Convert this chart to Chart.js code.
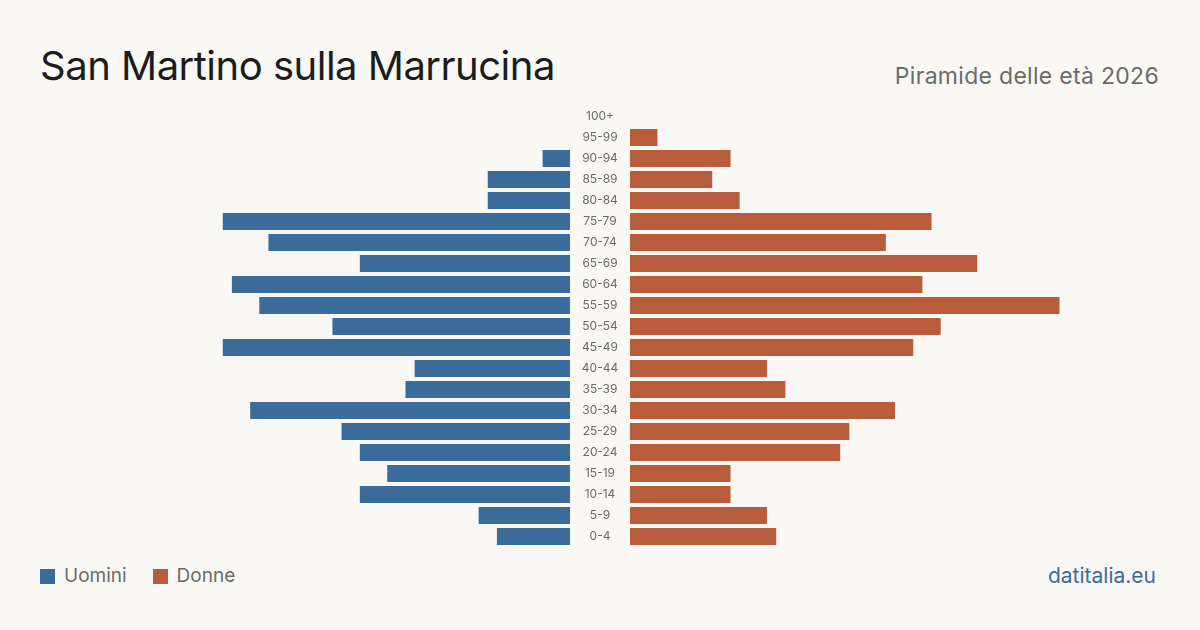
<!DOCTYPE html>
<html>
<head>
<meta charset="utf-8">
<script src="https://cdn.jsdelivr.net/npm/chart.js@4/dist/chart.umd.min.js"></script>
<style>
  html, body { margin:0; padding:0; }
  body { width:1200px; height:630px; background:#f9f8f4; position:relative; overflow:hidden; font-family: Inter, "Noto Sans", sans-serif; }
  #title { position:absolute; left:40px; top:40px; font-size:40px; color:#1c1c1c; line-height:52px; letter-spacing:-0.5px; }
  #subtitle { position:absolute; right:41px; top:61px; font-size:23px; color:#6b6b6b; line-height:30px; letter-spacing:0.3px; }
  #legend { position:absolute; left:40px; top:565px; font-size:19px; color:#6b6b6b; display:flex; align-items:center; line-height:22px; }
  .sw { display:inline-block; width:15px; height:15px; margin-right:9px; }
  .item { display:flex; align-items:center; margin-right:26px; }
  #brand { position:absolute; right:44px; top:564px; font-size:21px; color:#3b6b9b; line-height:24px; }
  #left { position:absolute; left:40px; top:106px; width:590px; height:441px; }
  #right { position:absolute; left:630px; top:106px; width:530px; height:441px; }
</style>
</head>
<body>
<div id="title">San Martino sulla Marrucina</div>
<div id="subtitle">Piramide delle età 2026</div>
<div id="left"><canvas id="cl"></canvas></div>
<div id="right"><canvas id="cr"></canvas></div>
<div id="legend">
  <span class="item"><span class="sw" style="background:#3b6b9b"></span>Uomini</span>
  <span class="item"><span class="sw" style="background:#b95c3c"></span>Donne</span>
</div>
<div id="brand">datitalia.eu</div>
<script>
const ageGroups = ['100+','95-99','90-94','85-89','80-84','75-79','70-74','65-69','60-64','55-59','50-54','45-49','40-44','35-39','30-34','25-29','20-24','15-19','10-14','5-9','0-4'];
const men   = [0,0,3,9,9,38,33,23,37,34,26,38,17,18,35,25,23,20,23,10,8];
const women = [0,3,11,9,12,33,28,38,32,47,34,31,15,17,29,24,23,11,11,15,16];
const axisMax = 58;
const menColor = '#3b6b9b';
const womenColor = '#b95c3c';

const common = {
  indexAxis: 'y',
  responsive: true,
  maintainAspectRatio: false,
  animation: false,
  layout: { padding: 0 },
  plugins: { legend: { display:false }, tooltip: { enabled:false } }
};

new Chart(document.getElementById('cl'), {
  type: 'bar',
  data: { labels: ageGroups, datasets: [{ data: men, backgroundColor: menColor, barPercentage: 0.81, categoryPercentage: 1.0 }] },
  options: Object.assign({}, common, {
    scales: {
      x: { reverse: true, min: 0, max: axisMax, display: false },
      y: {
        position: 'right',
        grid: { display:false, drawTicks:false },
        border: { display:false },
        ticks: { color:'#6b6b6b', font:{ family:'Inter, "Noto Sans", sans-serif', size:12 }, crossAlign:'center', padding:0, autoSkip:false },
        afterFit: (s) => { s.width = 60; s.paddingTop = 0; s.paddingBottom = 0; },
        afterUpdate: (s) => {}
      }
    }
  }),
  plugins: [{
    id: 'centerLabels',
    afterLayout(chart) {
      const y = chart.scales.y;
      // center labels in the 60px gutter by adjusting padding
      const widest = Math.max(...ageGroups.map(l => { const c = chart.ctx; c.font = '12px Inter'; return c.measureText(l).width; }));
      const want = 30 - widest / 2;
      if (Math.abs(y.options.ticks.padding - want) > 0.5) {
        y.options.ticks.padding = want;
        chart.update('none');
      }
    }
  }]
});

new Chart(document.getElementById('cr'), {
  type: 'bar',
  data: { labels: ageGroups, datasets: [{ data: women, backgroundColor: womenColor, barPercentage: 0.81, categoryPercentage: 1.0 }] },
  options: Object.assign({}, common, {
    scales: {
      x: { min: 0, max: axisMax, display: false },
      y: { display: false }
    }
  })
});
</script>
</body>
</html>
